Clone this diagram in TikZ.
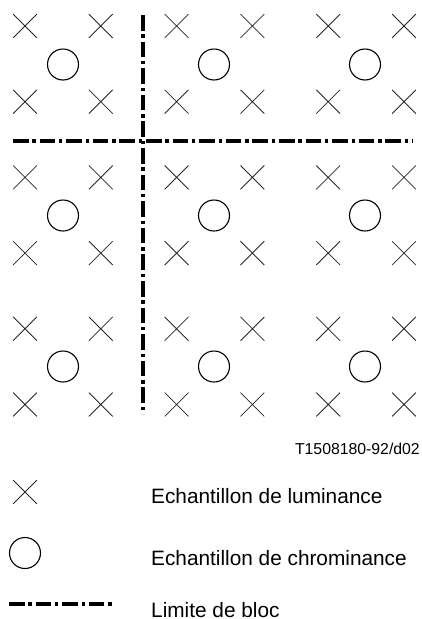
\documentclass[tikz,border=0pt]{standalone}
\usepackage{fontspec}
\setmainfont{Liberation Sans}
\usetikzlibrary{shapes.misc, positioning}

\begin{document}
\begin{tikzpicture}[
		x=1pt, y=-1pt,
		luma/.style={cross out, draw=black!85, line width=0.8pt, inner sep=0pt, minimum size=23pt},
		chroma/.style={circle, draw, line width=1.1pt, inner sep=0pt, minimum size=31pt},
		bloc/.style={line width=4pt, dash pattern=on 15.5pt off 3.8pt on 3.5pt off 3.8pt},
		legend/.style={anchor=base west, inner sep=0pt, font=\fontsize{20.8}{24}\selectfont}
		]
		\useasboundingbox (0,0) rectangle (422,619);
		% luminance samples
		\foreach \i in {0,...,5}
			\foreach \j in {0,...,5}
				\node [luma] (lum-\i-\j) at ({25+75.8*\i},{26+75.7*\j}) {};
		% chrominance samples
		\foreach \i in {0,1,2}
			\foreach \j in {0,1,2}
				\node [chroma] (chr-\i-\j) at ({63+151*\i},{64.5+151*\j}) {};
		% block boundaries
		\coordinate (vtop) at (142.5,15);
		\coordinate (vbot) at (142.5,414);
		\coordinate (hleft) at (13,140.5);
		\coordinate (hright) at (413,140.5);
		\draw [bloc] (vtop) -- (vbot);
		\draw [bloc] (hleft) -- (hright);
		
		\node [anchor=base east, inner sep=0pt, font=\fontsize{15.8}{18}\selectfont] (ref) at (420,454) {T1508180-92/d02};
		
		% legend
		\node [luma] (key lum) at (25,492) {};
		\node [chroma] (key chr) at (25,553) {};
		\coordinate (key a) at (9,604);
		\coordinate (key b) at (113,604);
		\draw [bloc] (key a) -- (key b);
		\node [legend] (txt lum) at (151,503) {Echantillon de luminance};
		\node [legend] (txt chr) at (151,565) {Echantillon de chrominance};
		\node [legend] (txt bloc) at (151,617) {Limite de bloc};
	\end{tikzpicture}
\end{document}
